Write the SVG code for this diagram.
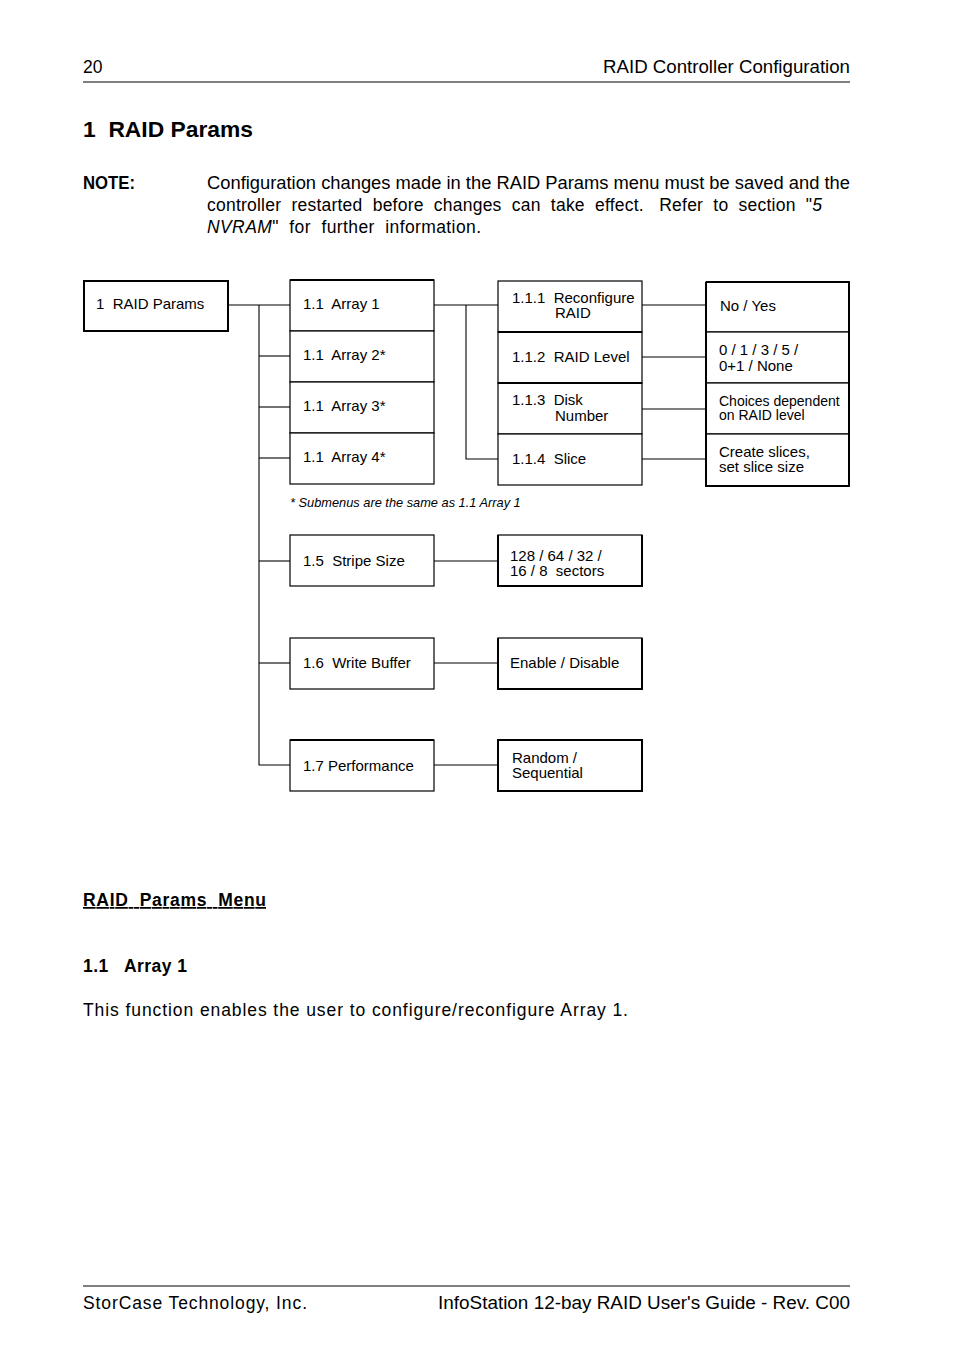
<svg xmlns="http://www.w3.org/2000/svg" width="954" height="1369" viewBox="0 0 954 1369">
<style>
text{font-family:"Liberation Sans",Arial,sans-serif;fill:#000;white-space:pre}
.pg{font-size:17.5px}
.bx{font-size:15px}
.sm{font-size:14px}
.box{fill:#fff;stroke:#000;stroke-width:1.2}
.thk{fill:none;stroke:#000;stroke-width:2}
.ln{stroke:#000;stroke-width:1.1;fill:none}
</style>
<rect width="954" height="1369" fill="#fff"/>
<g id="header">
<text class="pg" x="83" y="73">20</text>
<text class="pg" x="603" y="73" textLength="247" lengthAdjust="spacingAndGlyphs">RAID Controller Configuration</text>
<line class="ln" x1="83" y1="82" x2="850" y2="82"/>
</g>
<text x="83" y="137" font-size="22" font-weight="bold" textLength="170" lengthAdjust="spacingAndGlyphs">1  RAID Params</text>
<g id="note">
<text class="pg" x="83" y="189" font-weight="bold" textLength="52" lengthAdjust="spacingAndGlyphs">NOTE:</text>
<text class="pg" x="207" y="189" textLength="643" lengthAdjust="spacingAndGlyphs">Configuration changes made in the RAID Params menu must be saved and the</text>
<text class="pg" x="207" y="211" textLength="615" lengthAdjust="spacing">controller  restarted  before  changes  can  take  effect.   Refer  to  section  "<tspan font-style="italic">5</tspan></text>
<text class="pg" x="207" y="233" textLength="274" lengthAdjust="spacing"><tspan font-style="italic">NVRAM</tspan>"  for  further  information.</text>
</g>
<g id="connectors">
<line class="ln" x1="228" y1="305" x2="290" y2="305"/>
<polyline class="ln" points="259,305 259,765 290,765"/>
<line class="ln" x1="259" y1="356" x2="290" y2="356"/>
<line class="ln" x1="259" y1="407" x2="290" y2="407"/>
<line class="ln" x1="259" y1="458" x2="290" y2="458"/>
<line class="ln" x1="259" y1="561" x2="290" y2="561"/>
<line class="ln" x1="259" y1="663" x2="290" y2="663"/>
<line class="ln" x1="434" y1="305" x2="498" y2="305"/>
<polyline class="ln" points="466,305 466,459 498,459"/>
<line class="ln" x1="642" y1="305" x2="706" y2="305"/>
<line class="ln" x1="642" y1="357" x2="706" y2="357"/>
<line class="ln" x1="642" y1="409" x2="706" y2="409"/>
<line class="ln" x1="642" y1="459" x2="706" y2="459"/>
<line class="ln" x1="434" y1="561" x2="498" y2="561"/>
<line class="ln" x1="434" y1="663" x2="498" y2="663"/>
<line class="ln" x1="434" y1="765" x2="498" y2="765"/>
</g>
<g id="n-raid-params">
<rect class="thk" x="84" y="281" width="144" height="50"/>
<text class="bx" x="96" y="309">1  RAID Params</text>
</g>
<g id="n-array1">
<rect class="box" x="290" y="280" width="144" height="51"/>
<line class="thk" x1="290" y1="280" x2="434" y2="280"/>
<text class="bx" x="303" y="309">1.1  Array 1</text>
</g>
<g id="n-array2">
<rect class="box" x="290" y="331" width="144" height="51"/>
<text class="bx" x="303" y="360">1.1  Array 2*</text>
</g>
<g id="n-array3">
<rect class="box" x="290" y="382" width="144" height="51"/>
<text class="bx" x="303" y="411">1.1  Array 3*</text>
</g>
<g id="n-array4">
<rect class="box" x="290" y="433" width="144" height="51"/>
<text class="bx" x="303" y="462">1.1  Array 4*</text>
</g>
<g id="n-reconfigure">
<rect class="box" x="498" y="281" width="144" height="51"/>
<text class="bx" x="512" y="303">1.1.1  Reconfigure</text>
<text class="bx" x="555" y="318">RAID</text>
</g>
<g id="n-raidlevel">
<rect class="box" x="498" y="332" width="144" height="51"/>
<line class="thk" x1="498" y1="332" x2="642" y2="332"/>
<text class="bx" x="512" y="362">1.1.2  RAID Level</text>
</g>
<g id="n-disknumber">
<rect class="box" x="498" y="383" width="144" height="51"/>
<line class="thk" x1="498" y1="383" x2="642" y2="383"/>
<text class="bx" x="512" y="405">1.1.3  Disk</text>
<text class="bx" x="555" y="421">Number</text>
</g>
<g id="n-slice">
<rect class="box" x="498" y="434" width="144" height="51"/>
<text class="bx" x="512" y="464">1.1.4  Slice</text>
</g>
<g id="n-noyes">
<rect class="box" x="706" y="282" width="143" height="50"/>
<text class="bx" x="720" y="311">No / Yes</text>
</g>
<g id="n-levels">
<rect class="box" x="706" y="332" width="143" height="51"/>
<text class="bx" x="719" y="355">0 / 1 / 3 / 5 /</text>
<text class="bx" x="719" y="371">0+1 / None</text>
</g>
<g id="n-choices">
<rect class="box" x="706" y="383" width="143" height="51"/>
<text class="sm" x="719" y="406">Choices dependent</text>
<text class="sm" x="719" y="420">on RAID level</text>
</g>
<g id="n-create">
<rect class="box" x="706" y="434" width="143" height="52"/>
<text class="bx" x="719" y="457">Create slices,</text>
<text class="bx" x="719" y="472">set slice size</text>
</g>
<polyline class="thk" points="706,282 849,282 849,486 706,486 706,282"/>
<text x="290" y="507" font-size="12.8" font-style="italic">* Submenus are the same as 1.1 Array 1</text>
<g id="n-stripe">
<rect class="box" x="290" y="535" width="144" height="51"/>
<text class="bx" x="303" y="566">1.5  Stripe Size</text>
</g>
<g id="n-sectors">
<rect class="box" x="498" y="535" width="144" height="51"/>
<polyline class="thk" points="498,535 498,586 642,586 642,535"/>
<text class="bx" x="510" y="561">128 / 64 / 32 /</text>
<text class="bx" x="510" y="576">16 / 8  sectors</text>
</g>
<g id="n-writebuffer">
<rect class="box" x="290" y="638" width="144" height="51"/>
<text class="bx" x="303" y="668">1.6  Write Buffer</text>
</g>
<g id="n-enable">
<rect class="box" x="498" y="638" width="144" height="51"/>
<polyline class="thk" points="498,638 498,689 642,689 642,638"/>
<text class="bx" x="510" y="668">Enable / Disable</text>
</g>
<g id="n-performance">
<rect class="box" x="290" y="740" width="144" height="51"/>
<line class="thk" x1="290" y1="740" x2="434" y2="740"/>
<text class="bx" x="303" y="771">1.7 Performance</text>
</g>
<g id="n-random">
<rect class="thk" x="498" y="740" width="144" height="51"/>
<text class="bx" x="512" y="763">Random /</text>
<text class="bx" x="512" y="778">Sequential</text>
</g>
<g id="body">
<text class="pg" x="83" y="906" font-weight="bold" text-decoration="underline" textLength="183" lengthAdjust="spacing">RAID  Params  Menu</text>
<text class="pg" x="83" y="972" font-weight="bold" textLength="104" lengthAdjust="spacing">1.1   Array 1</text>
<text class="pg" x="83" y="1016" textLength="545" lengthAdjust="spacing">This function enables the user to configure/reconfigure Array 1.</text>
</g>
<g id="footer">
<line class="ln" x1="83" y1="1286" x2="850" y2="1286"/>
<text class="pg" x="83" y="1309" textLength="224" lengthAdjust="spacing">StorCase Technology, Inc.</text>
<text class="pg" x="438" y="1309" textLength="412" lengthAdjust="spacingAndGlyphs">InfoStation 12-bay RAID User's Guide - Rev. C00</text>
</g>
</svg>
